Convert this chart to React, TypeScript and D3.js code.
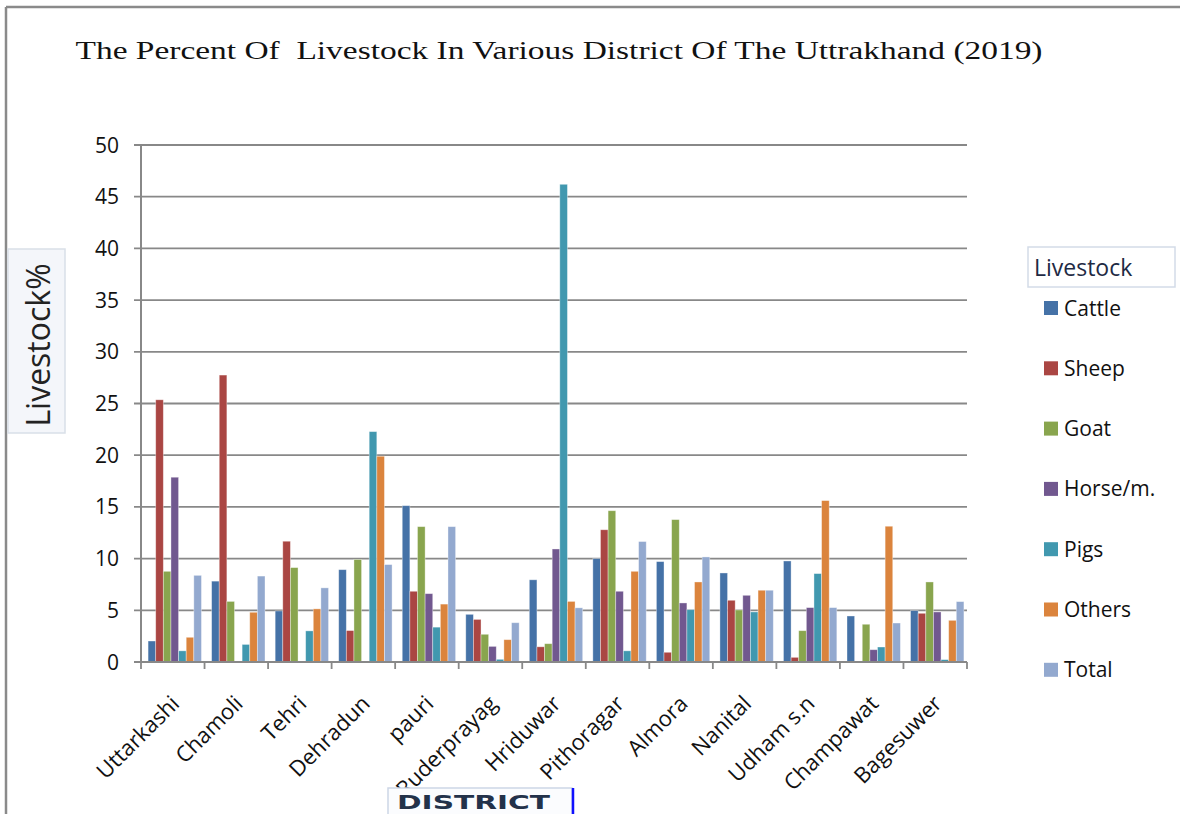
import React, { useEffect, useRef } from 'react';
import * as d3 from 'd3';

const districts = [
  'Uttarkashi', 'Chamoli', 'Tehri', 'Dehradun', 'pauri', 'Ruderprayag', 'Hriduwar',
  'Pithoragar', 'Almora', 'Nanital', 'Udham s.n', 'Champawat', 'Bagesuwer',
];

const livestockTypes = ['Cattle', 'Sheep', 'Goat', 'Horse/m.', 'Pigs', 'Others', 'Total'];

const cattle = [2.03, 7.82, 4.94, 8.93, 15.12, 4.61, 7.95, 10.0, 9.71, 8.61, 9.77, 4.45, 4.97];
const sheep = [25.36, 27.75, 11.68, 3.04, 6.84, 4.12, 1.47, 12.79, 0.94, 5.97, 0.45, 0, 4.71];
const goat = [8.77, 5.86, 9.13, 9.92, 13.09, 2.68, 1.77, 14.63, 13.77, 5.03, 3.03, 3.65, 7.74];
const horse = [17.87, 0, 0, 0, 6.61, 1.51, 10.93, 6.84, 5.71, 6.45, 5.26, 1.19, 4.84];
const pigs = [1.08, 1.7, 3.01, 22.28, 3.37, 0.26, 46.2, 1.08, 5.06, 4.84, 8.55, 1.45, 0.23];
const others = [2.39, 4.81, 5.14, 19.9, 5.6, 2.16, 5.86, 8.77, 7.74, 6.94, 15.61, 13.13, 4.03];
const total = [8.38, 8.31, 7.17, 9.42, 13.09, 3.8, 5.24, 11.65, 10.16, 6.94, 5.26, 3.77, 5.84];

const yTicks = [0, 5, 10, 15, 20, 25, 30, 35, 40, 45, 50];

const colors = ['#4572A7', '#AA4643', '#89A54E', '#71588F', '#4198AF', '#DB843D', '#93A9CF'];

const App: React.FC = () => {
  const ref = useRef<SVGSVGElement | null>(null);

  useEffect(() => {
    if (!ref.current) return;
    const svg = d3.select(ref.current);
    svg.selectAll('*').remove();

    const width = 1180;
    const height = 814;
    const left = 141, right = 967, top = 145, bottom = 662;
    const sans = "'Open Sans', sans-serif";

    svg.append('rect').attr('width', width).attr('height', height).attr('fill', '#fff');

    // outer frame (top + left only visible)
    svg.append('line').attr('x1', 6).attr('x2', width).attr('y1', 7).attr('y2', 7)
      .attr('stroke', '#8a8a8a').attr('stroke-width', 2.5);
    svg.append('line').attr('x1', 6).attr('x2', 6).attr('y1', 7).attr('y2', height)
      .attr('stroke', '#8a8a8a').attr('stroke-width', 2.5);

    svg.append('text')
      .attr('x', 559).attr('y', 59)
      .attr('text-anchor', 'middle')
      .attr('font-family', "'Liberation Serif', 'Times New Roman', serif")
      .attr('font-size', 26)
      .attr('textLength', 967)
      .attr('lengthAdjust', 'spacingAndGlyphs')
      .style('white-space', 'pre')
      .attr('fill', '#111')
      .text('The Percent Of  Livestock In Various District Of The Uttrakhand (2019)');

    const series = [cattle, sheep, goat, horse, pigs, others, total];
    const data = districts.map((d, i) => ({
      district: d,
      values: livestockTypes.map((t, k) => ({ type: t, value: series[k][i], color: colors[k] })),
    }));

    const x0 = d3.scaleBand<string>()
      .domain(districts)
      .range([left, right])
      .paddingInner(0.16)
      .paddingOuter(0.08);
    const x1 = d3.scaleBand<string>()
      .domain(livestockTypes)
      .range([2, x0.bandwidth() + 2]);
    const y = d3.scaleLinear().domain([0, 50]).range([bottom, top]);

    // gridlines + y ticks
    const grid = svg.append('g');
    grid.selectAll('line')
      .data(yTicks)
      .enter().append('line')
      .attr('x1', left - 7).attr('x2', right)
      .attr('y1', d => y(d)).attr('y2', d => y(d))
      .attr('stroke', '#888').attr('stroke-width', 1.8);

    svg.append('g').selectAll('text')
      .data(yTicks)
      .enter().append('text')
      .attr('x', 119).attr('y', d => y(d))
      .attr('dy', '0.36em')
      .attr('text-anchor', 'end')
      .attr('font-family', sans).attr('font-size', 21)
      .attr('fill', '#111')
      .text(d => String(d));

    // bars
    const groups = svg.append('g').selectAll('g')
      .data(data)
      .enter().append('g')
      .attr('transform', d => `translate(${x0(d.district)},0)`);
    groups.selectAll('rect')
      .data(d => d.values)
      .enter().append('rect')
      .attr('x', d => x1(d.type) || 0)
      .attr('y', d => y(d.value))
      .attr('width', x1.bandwidth())
      .attr('height', d => bottom - y(d.value))
      .attr('fill', d => d.color)
      .attr('stroke', '#fff').attr('stroke-opacity', 0.45).attr('stroke-width', 0.8);

    // axes lines
    svg.append('line').attr('x1', left).attr('x2', left).attr('y1', top).attr('y2', bottom)
      .attr('stroke', '#888').attr('stroke-width', 2);
    svg.append('line').attr('x1', left).attr('x2', right).attr('y1', bottom).attr('y2', bottom)
      .attr('stroke', '#888').attr('stroke-width', 2);

    const step = x0.step();
    const boundaries = districts.map((d, i) => left + i * step).concat([right]);
    svg.append('g').selectAll('line')
      .data(boundaries)
      .enter().append('line')
      .attr('x1', d => d).attr('x2', d => d)
      .attr('y1', bottom).attr('y2', bottom + 7)
      .attr('stroke', '#888').attr('stroke-width', 1.8);

    // category labels
    svg.append('g').selectAll('text')
      .data(districts)
      .enter().append('text')
      .attr('transform', d => `translate(${(x0(d) || 0) + x0.bandwidth() / 2 + 8},${bottom + 43}) rotate(-45)`)
      .attr('text-anchor', 'end')
      .attr('font-family', sans).attr('font-size', 22)
      .attr('fill', '#111')
      .text(d => d);

    // y axis title
    svg.append('rect').attr('x', 8).attr('y', 249).attr('width', 57).attr('height', 184)
      .attr('fill', '#f4f6fa').attr('stroke', '#d9dfe8').attr('stroke-width', 1.5);
    svg.append('text')
      .attr('transform', 'translate(50,345) rotate(-90)')
      .attr('text-anchor', 'middle')
      .attr('font-family', sans).attr('font-size', 32)
      .attr('fill', '#222')
      .text('Livestock%');

    // x axis title
    svg.append('rect').attr('x', 388).attr('y', 788).attr('width', 184).attr('height', 30)
      .attr('fill', '#fbfcfe').attr('stroke', '#cdd6e6').attr('stroke-width', 1.5);
    svg.append('line').attr('x1', 573).attr('x2', 573).attr('y1', 788).attr('y2', height)
      .attr('stroke', '#1010ff').attr('stroke-width', 2.5);
    svg.append('text')
      .attr('x', 397).attr('y', 809)
      .attr('font-family', "'DejaVu Sans', sans-serif")
      .attr('font-weight', 'bold').attr('font-size', 19)
      .attr('textLength', 153)
      .attr('lengthAdjust', 'spacingAndGlyphs')
      .attr('fill', '#23324a')
      .text('DISTRICT');

    // legend
    svg.append('rect').attr('x', 1028).attr('y', 247).attr('width', 147).attr('height', 40)
      .attr('fill', '#fff').attr('stroke', '#d3dbe8').attr('stroke-width', 1.5);
    svg.append('text')
      .attr('x', 1034).attr('y', 276)
      .attr('font-family', sans).attr('font-size', 23)
      .attr('fill', '#1e2a44')
      .text('Livestock');

    const legend = svg.append('g').selectAll('g')
      .data(livestockTypes)
      .enter().append('g')
      .attr('transform', (d, i) => `translate(1044,${308 + i * 60.3})`);
    legend.append('rect')
      .attr('x', 0).attr('y', -7).attr('width', 14).attr('height', 14)
      .attr('fill', (d, i) => colors[i]);
    legend.append('text')
      .attr('x', 20).attr('y', 0).attr('dy', '0.36em')
      .attr('font-family', sans).attr('font-size', 21)
      .attr('fill', '#111')
      .text(d => d);
  }, []);

  return (
    <svg
      ref={ref}
      width={1180}
      height={814}
      style={{ position: 'absolute', left: 0, top: 0, display: 'block' }}
    />
  );
};

export default App;
